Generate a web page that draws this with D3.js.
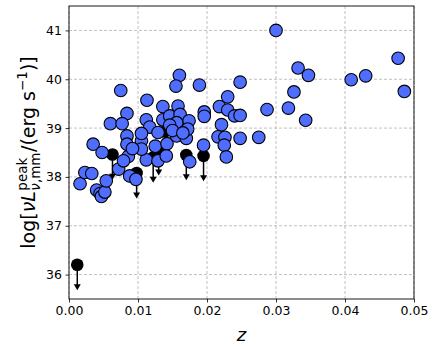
<!DOCTYPE html>
<html>
<head>
<meta charset="utf-8">
<script src="https://cdn.jsdelivr.net/npm/d3@7"></script>
<style>
  body { margin: 0; background: white; }
  svg text { font-family: "DejaVu Sans", sans-serif; fill: black; }
</style>
</head>
<body>
<svg id="chart" width="436" height="349"></svg>
<script>
// detections (blue)
const zDet = [0.0300, 0.0332, 0.0347, 0.0326, 0.0287, 0.0318, 0.0343, 0.0275, 0.0409, 0.0430,
  0.0477, 0.0486, 0.0248, 0.0230, 0.0218, 0.0230, 0.0240, 0.0248, 0.0221, 0.0216,
  0.0226, 0.0225, 0.0248, 0.0228, 0.0075, 0.0113, 0.0160, 0.0155, 0.0189, 0.0084,
  0.0060, 0.0077, 0.0112, 0.0117, 0.0136, 0.0136, 0.0146, 0.0158, 0.0161, 0.0174,
  0.0196, 0.0196, 0.0035, 0.0048, 0.0084, 0.0084, 0.0105, 0.0105, 0.0129, 0.0125,
  0.0142, 0.0156, 0.0170, 0.0195, 0.0086, 0.0112, 0.0129, 0.0141, 0.0175, 0.0016,
  0.0023, 0.0033, 0.0040, 0.0045, 0.0047, 0.0052, 0.0054, 0.0072, 0.0079, 0.0088,
  0.0097, 0.0156, 0.0146, 0.0172, 0.0150, 0.0165, 0.0105, 0.0092];
const lDet = [41.00, 40.23, 40.08, 39.74, 39.38, 39.41, 39.16, 38.81, 39.99, 40.07,
  40.43, 39.75, 39.94, 39.64, 39.44, 39.37, 39.25, 39.26, 39.07, 38.82,
  38.81, 38.65, 38.79, 38.41, 39.77, 39.57, 40.08, 39.86, 39.88, 39.30,
  39.09, 39.09, 39.17, 39.02, 39.44, 39.17, 39.25, 39.45, 39.28, 39.15,
  39.33, 39.24, 38.67, 38.50, 38.84, 38.67, 38.74, 38.89, 38.91, 38.63,
  38.68, 38.84, 38.79, 38.65, 38.42, 38.35, 38.33, 38.43, 38.31, 37.86,
  38.09, 38.07, 37.73, 37.66, 37.60, 37.69, 37.92, 38.16, 38.33, 38.02,
  37.95, 39.11, 39.06, 38.98, 38.95, 38.90, 38.57, 38.58];

// upper limits (black, arrows)
const zLim = [0.0012, 0.0063, 0.0098, 0.0122, 0.0130, 0.0139, 0.0170, 0.0195];
const lLim = [36.20, 38.46, 38.08, 38.40, 38.55, 38.93, 38.45, 38.43];
const arrowLen = 0.5;

const xTicks = [0, 0.01, 0.02, 0.03, 0.04, 0.05];
const yTicks = [36, 37, 38, 39, 40, 41];

const svg = d3.select('#chart');
const margin = { top: 6, right: 22, bottom: 50, left: 69 };
const width = 436, height = 349;
const innerWidth = width - margin.left - margin.right;
const innerHeight = height - margin.top - margin.bottom;

const xScale = d3.scaleLinear().domain([0, 0.05]).range([0, innerWidth]);
const yScale = d3.scaleLinear().domain([35.5, 41.5]).range([innerHeight, 0]);

const g = svg.append('g')
    .attr('transform', `translate(${margin.left},${margin.top})`);

// grid
g.append('g').selectAll('line').data(xTicks).join('line')
    .attr('x1', d => xScale(d)).attr('x2', d => xScale(d))
    .attr('y1', 0).attr('y2', innerHeight)
    .style('stroke', '#b0b0b0').style('stroke-dasharray', '3,2').style('stroke-width', 0.8);
g.append('g').selectAll('line').data(yTicks).join('line')
    .attr('y1', d => yScale(d)).attr('y2', d => yScale(d))
    .attr('x1', 0).attr('x2', innerWidth)
    .style('stroke', '#b0b0b0').style('stroke-dasharray', '3,2').style('stroke-width', 0.8);

// axes
const xAxis = g.append('g')
    .attr('transform', `translate(0,${innerHeight})`)
    .call(d3.axisBottom(xScale).tickValues(xTicks).tickFormat(d3.format('.2f')).tickSize(3.5).tickPadding(3.5));
const yAxis = g.append('g')
    .call(d3.axisLeft(yScale).tickValues(yTicks).tickFormat(d3.format('d')).tickSize(3.5).tickPadding(3.5));
[xAxis, yAxis].forEach(a => {
    a.select('.domain').remove();
    a.selectAll('text').style('font-size', '12.5px').style('font-family', '"DejaVu Sans", sans-serif');
    a.selectAll('line').style('stroke', 'black').style('stroke-width', 0.8);
});

// upper limits first
const lim = zLim.map((z, i) => ({ z: z, l: lLim[i] }));
const limG = g.append('g');
limG.selectAll('line').data(lim).join('line')
    .attr('x1', d => xScale(d.z)).attr('x2', d => xScale(d.z))
    .attr('y1', d => yScale(d.l)).attr('y2', d => yScale(d.l - arrowLen) - 4)
    .style('stroke', 'black').style('stroke-width', 1.5);
limG.selectAll('path').data(lim).join('path')
    .attr('d', d => {
        const x = xScale(d.z), y = yScale(d.l - arrowLen);
        return `M${x - 3.5},${y - 5}L${x + 3.5},${y - 5}L${x},${y + 1}Z`;
    })
    .style('fill', 'black');
limG.selectAll('circle').data(lim).join('circle')
    .attr('cx', d => xScale(d.z)).attr('cy', d => yScale(d.l))
    .attr('r', 6.3)
    .style('fill', 'black');

// detections
const det = zDet.map((z, i) => ({ z: z, l: lDet[i] }));
g.append('g').selectAll('circle').data(det).join('circle')
    .attr('cx', d => xScale(d.z)).attr('cy', d => yScale(d.l))
    .attr('r', 6.3)
    .style('fill', '#4f6dff')
    .style('stroke', 'black')
    .style('stroke-width', 1.1);

// frame
g.append('rect')
    .attr('width', innerWidth).attr('height', innerHeight)
    .style('fill', 'none').style('stroke', 'black').style('stroke-width', 0.9);

// x label
g.append('text')
    .attr('x', innerWidth / 2)
    .attr('y', innerHeight + 42)
    .style('text-anchor', 'middle')
    .style('font-size', '18px')
    .style('font-style', 'italic')
    .text('z');

// y label built from pieces
const yl = svg.append('g');
const big = 19, small = 13.5;
const t1 = yl.append('text').style('font-size', big + 'px');
t1.append('tspan').text('log[');
t1.append('tspan').style('font-style', 'italic').text('νL');
let w1 = t1.node().getComputedTextLength();
const sup = yl.append('text').attr('x', w1 + 0.5).attr('y', -8.5).style('font-size', small + 'px').text('peak');
const sub = yl.append('text').attr('x', w1 + 0.5).attr('y', 5).style('font-size', small + 'px');
sub.append('tspan').style('font-style', 'italic').text('ν');
sub.append('tspan').text(',mm');
const w2 = Math.max(sup.node().getComputedTextLength(), sub.node().getComputedTextLength()) + 1;
const t3 = yl.append('text').attr('x', w1 + w2).style('font-size', big + 'px').text('/(erg s');
const w3 = t3.node().getComputedTextLength();
const t4 = yl.append('text').attr('x', w1 + w2 + w3).attr('y', -8.5).style('font-size', small + 'px').text('−1');
const w4 = t4.node().getComputedTextLength();
const t5 = yl.append('text').attr('x', w1 + w2 + w3 + w4).style('font-size', big + 'px').text(')]');
const total = w1 + w2 + w3 + w4 + t5.node().getComputedTextLength();
yl.attr('transform', `translate(35,${margin.top + innerHeight / 2}) rotate(-90) translate(${-total / 2},0)`);
</script>
</body>
</html>
